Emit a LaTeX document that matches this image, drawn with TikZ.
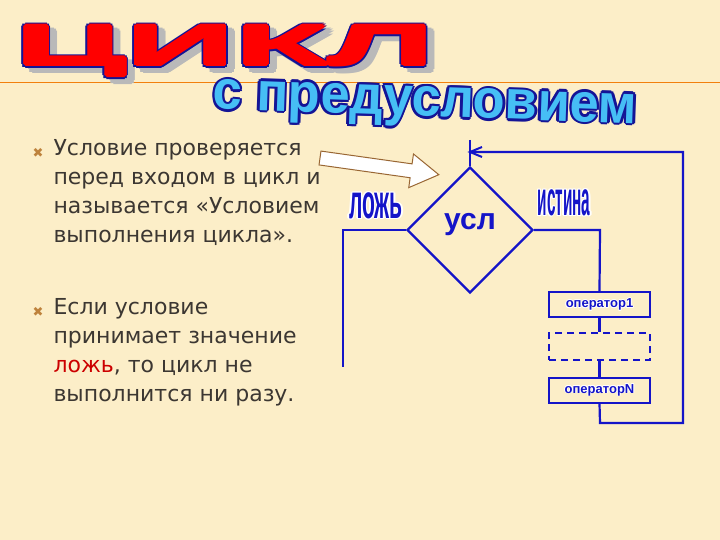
\documentclass[tikz,border=0pt]{standalone}
\usetikzlibrary{shapes.geometric}
\usepackage{fontspec}
\setmainfont{Liberation Sans}
\newfontfamily\sym{DejaVu Sans}
\definecolor{bg}{RGB}{252,238,200}
\definecolor{fc}{RGB}{20,20,200}
\definecolor{tx}{RGB}{60,55,50}
\definecolor{bul}{RGB}{190,130,60}
\definecolor{lb}{RGB}{70,190,245}
\definecolor{db}{RGB}{20,20,150}
\newcommand\outlined[6]{% pos, text, fill, outline, width, extra style
  \foreach \dx/\dy in {-1/0,1/0,0/-1,0/1,-.7/-.7,.7/.7,-.7/.7,.7/-.7}
    {\node[#6,text=#4] at ([shift={(\dx*#5,\dy*#5)}]#1) {#2};}
  \node[#6,text=#3] at (#1) {#2};}
\begin{document}
\begin{tikzpicture}[x=1pt,y=-1pt,
  fl/.style={draw=fc,line width=2.2pt},
  opbox/.style={draw=fc,line width=2pt,minimum width=101pt,minimum height=25pt,inner sep=0pt},
  optext/.style={font=\bfseries\fontsize{13}{13}\selectfont},
  ttl/.style={font=\bfseries\fontsize{62}{62}\selectfont},
  btxt/.style={anchor=north west,align=left,text=tx,font=\sym\fontsize{22}{29}\selectfont},
  bmark/.style={text=bul,font=\sym\fontsize{13}{13}\selectfont}]
\fill[bg] (0,0) rectangle (720,540);
\useasboundingbox (0,0) rectangle (720,540);
\draw[orange!80!brown,line width=1pt] (0,83) -- (720,83);
% title
\outlined{232,56}{\scalebox{2.45}[0.9]{ЦИКЛ}}{gray!55}{gray!55}{3.5}{ttl}
\outlined{225,51}{\scalebox{2.45}[0.9]{ЦИКЛ}}{db}{db}{3.6}{ttl}
\outlined{225,51}{\scalebox{2.45}[0.9]{ЦИКЛ}}{red}{red}{1.8}{ttl}
\outlined{425,107}{\rotatebox{-2}{\scalebox{1.05}[1.1]{с предусловием}}}{lb}{db}{2.4}{font=\bfseries\fontsize{50}{50}\selectfont}
% bullets
\node[bmark] (b1) at (38,153) {✖};
\node[bmark] (b2) at (38,312) {✖};
\node[btxt] (t1) at (50,136) {Условие проверяется\\перед входом в цикл и\\называется «Условием\\выполнения цикла».};
\node[btxt] (t2) at (50,295) {Если условие\\принимает значение\\\textcolor{red!80!black}{ложь}, то цикл не\\выполнится ни разу.};
% big arrow
\draw[draw=brown!80!black,fill=white,line width=1pt,rotate around={-8:(320,158)}]
  (320,151) -- (412,151) -- (412,141) -- (440,158) -- (412,175) -- (412,165) -- (320,165) -- cycle;
% flowchart
\coordinate (top) at (470,140);
\node[diamond,draw=fc,line width=2.2pt,minimum width=126pt,minimum height=126pt,inner sep=0pt] (d) at (470,230) {};
\node[text=fc,font=\bfseries\fontsize{30}{30}\selectfont] at (470,225) {усл};
\node[opbox] (o1) at (599.5,304.5) {};
\node[draw=fc,line width=2pt,dashed,dash pattern=on 7pt off 5pt,minimum width=101pt,minimum height=27pt] (dsh) at (599.5,346.5) {};
\node[opbox] (oN) at (599.5,390) {};
\outlined{o1}{оператор1}{fc}{white}{0.8}{optext}
\outlined{oN}{операторN}{fc}{white}{0.8}{optext}
\coordinate (lf) at (343,230);
\coordinate (le) at (343,367);
\coordinate (rt) at (600,230);
\coordinate (lp1) at (600,423);
\coordinate (lp2) at (683,423);
\coordinate (lp3) at (683,152);
\coordinate (in) at (470,152);
\draw[fl] (top) -- (d.north);
\draw[fl] (d.west) -- (lf) -- (le);
\draw[fl] (d.east) -- (rt) -- (o1.north);
\draw[fl] (o1.south) -- (dsh.north);
\draw[fl] (dsh.south) -- (oN.north);
\draw[fl] (oN.south) -- (lp1) -- (lp2) -- (lp3) -- (in);
\draw[fc,line width=2pt] ([xshift=12pt,yshift=-5pt]in) -- (in) -- ([xshift=12pt,yshift=5pt]in);
\outlined{376,206}{\scalebox{0.44}[1]{ложь}}{fc}{white}{1.3}{font=\bfseries\fontsize{48}{48}\selectfont}
\outlined{564,203}{\scalebox{0.32}[1]{истина}}{fc}{white}{1.3}{font=\bfseries\fontsize{48}{48}\selectfont}
\end{tikzpicture}
\end{document}
